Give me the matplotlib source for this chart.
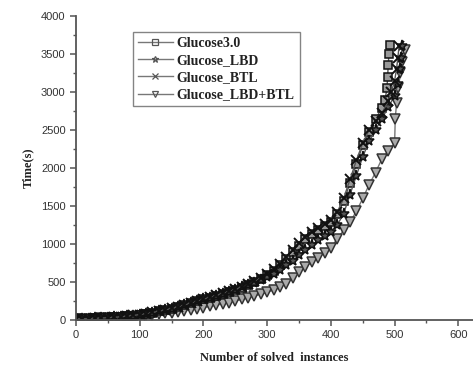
import matplotlib
matplotlib.use("Agg")
import matplotlib.pyplot as plt
from matplotlib.ticker import MultipleLocator
from matplotlib.lines import Line2D

# ---- data ----
x_g30 = [0,10,20,30,40,50,60,70,80,90,100,110,120,130,140,150,160,170,180,190,200,
         210,220,230,240,250,260,270,280,290,300,310,320,330,340,350,360,370,380,390,
         400,410,420,430,440,450,460,470,480,485,488,489,490,491,492]
y_g30 = [15,16,18,20,24,28,33,40,48,58,70,82,96,112,130,150,172,195,220,245,270,
         295,320,345,370,395,425,460,500,545,590,650,720,800,890,980,1060,1130,1190,1240,
         1290,1390,1560,1800,2050,2300,2480,2640,2790,2900,3050,3200,3350,3500,3620]

x_lbd = [0,10,20,30,40,50,60,70,80,90,100,110,120,130,140,150,160,170,180,190,200,
         210,220,230,240,250,260,270,280,290,300,310,320,330,340,350,360,370,380,390,
         400,410,420,430,440,450,460,470,480,490,500,505,508,510,512]
y_lbd = [15,16,18,21,25,29,34,41,49,59,71,83,97,113,131,151,173,196,221,246,271,
         296,322,348,374,400,428,460,492,525,560,610,660,720,780,850,920,990,1050,1100,
         1160,1250,1400,1650,1900,2150,2350,2500,2650,2800,2950,3100,3300,3450,3600]

x_btl = [0,10,20,30,40,50,60,70,80,90,100,110,120,130,140,150,160,170,180,190,200,
         210,220,230,240,250,260,270,280,290,300,310,320,330,340,350,360,370,380,390,
         400,410,420,430,440,450,460,470,480,490,495,500,503,505,507]
y_btl = [16,17,19,22,26,30,35,42,50,60,72,85,99,115,133,153,175,198,223,248,274,
         300,326,352,378,405,435,470,510,555,605,665,740,825,915,1010,1090,1160,1215,1260,
         1310,1420,1600,1850,2100,2330,2500,2620,2720,2880,3000,3150,3300,3450,3600]

x_lbdbtl = [0,10,20,30,40,50,60,70,80,90,100,110,120,130,140,150,160,170,180,190,200,
            210,220,230,240,250,260,270,280,290,300,310,320,330,340,350,360,370,380,390,
            400,410,420,430,440,450,460,470,480,490,500,501,503,506,509,512,516]
y_lbdbtl = [15,15,16,18,20,23,27,32,38,45,52,60,68,77,87,97,108,120,133,147,162,
            178,195,212,230,250,270,292,315,340,365,395,430,480,550,630,700,760,820,880,
            950,1070,1180,1290,1430,1600,1780,1940,2120,2220,2330,2650,2850,3050,3250,3400,3550]

labels = ["Glucose3.0", "Glucose_LBD", "Glucose_BTL", "Glucose_LBD+BTL"]
markers = ["s", "*", "x", "v"]
x_ticks = [0, 100, 200, 300, 400, 500, 600]
y_ticks = [0, 500, 1000, 1500, 2000, 2500, 3000, 3500, 4000]

# ---- figure ----
fig = plt.figure(figsize=(4.73, 3.67), dpi=100)
ax = fig.add_axes([76/473, 1-320/367, 1-76/473, (320-16)/367])

ax.plot(x_lbdbtl, y_lbdbtl, color="#777777", lw=1.0, marker="v", ms=7,
        mfc="#aaaaaa", mec="#333333", mew=1.1)
ax.plot(x_g30, y_g30, color="#555555", lw=1.0, marker="s", ms=6,
        mfc="#999999", mec="#111111", mew=1.1)
ax.plot(x_lbd, y_lbd, color="#555555", lw=1.0, marker="*", ms=8,
        mfc="#555555", mec="#111111", mew=1.1)
ax.plot(x_btl, y_btl, color="#555555", lw=1.0, marker="x", ms=6.5,
        mfc="none", mec="#111111", mew=1.4)

ax.set_xlim(0, 623)
ax.set_ylim(0, 4000)
ax.set_xticks(x_ticks)
ax.set_yticks(y_ticks)
ax.xaxis.set_minor_locator(MultipleLocator(50))
ax.yaxis.set_minor_locator(MultipleLocator(250))

for s in ["top", "right"]:
    ax.spines[s].set_visible(False)
for s in ["left", "bottom"]:
    ax.spines[s].set_color("#555555")
    ax.spines[s].set_linewidth(1.3)

ax.tick_params(which="major", direction="out", length=4, width=1.1, color="#555555",
               labelsize=8, labelcolor="#333333")
ax.tick_params(which="minor", direction="out", length=2.5, width=1.0, color="#555555")
for lab in ax.get_xticklabels() + ax.get_yticklabels():
    lab.set_family("Liberation Sans")

ax.set_xlabel("Number of solved  instances", family="Liberation Serif", fontsize=9,
              fontweight="bold", color="#222222", labelpad=8)
ax.set_ylabel("Time(s)", family="Liberation Serif", fontsize=9,
              fontweight="bold", color="#222222", labelpad=5)

proxies = [Line2D([], [], color="#777777", lw=1.0, marker=m, ms=5,
                  mfc="none", mec="#555555", mew=0.9) for m in markers]
leg = ax.legend(proxies, labels,
                loc="upper left", bbox_to_anchor=(133/473, 1-32/367),
                bbox_transform=fig.transFigure, frameon=True, fancybox=False,
                edgecolor="#666666", handlelength=2.5, labelspacing=0.3,
                handletextpad=0.3, borderpad=0.35, borderaxespad=0,
                prop={"family": "Liberation Serif", "size": 10, "weight": "bold"})
leg.get_frame().set_linewidth(1.0)
for t in leg.get_texts():
    t.set_color("#222222")

fig.savefig("out.png", dpi=100)
